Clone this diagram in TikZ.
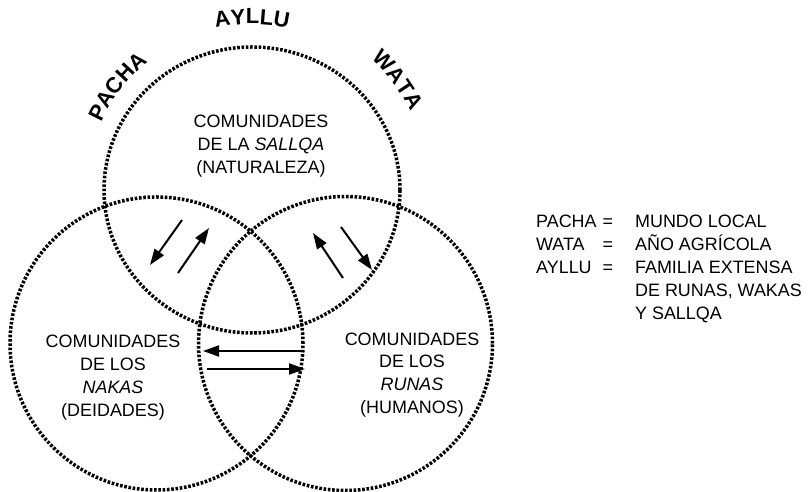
\documentclass[tikz,border=0pt]{standalone}
\usepackage{fontspec}
\setmainfont{Liberation Sans}
\usetikzlibrary{shapes, arrows.meta}
\usetikzlibrary{decorations.text}

\tikzset{
 puntos/.style={line width=3.5bp, dash pattern=on 2.6bp off 1.7bp},
 flecha/.style={line width=2bp, -{Triangle[length=16bp, width=11bp]}},
 texto/.style={align=center, inner sep=0pt, font=\fontsize{18}{23}\selectfont},
 arco/.style={decorate, decoration={text along path, text align=center, text={|\bfseries\fontsize{22}{24}\selectfont|#1}}}
}

\begin{document}
\begin{tikzpicture}[x=1bp, y=1bp]
\useasboundingbox (0,0) rectangle (810,492); %page size
\coordinate (csallqa) at (252,302);
\coordinate (cnakas) at (156.5,148.5);
\coordinate (crunas) at (345.5,148.5);
 \draw [puntos] (csallqa) ellipse [x radius=148, y radius=143];
 \draw [puntos] (cnakas) circle [radius=146.5];
 \draw [puntos] (crunas) circle [radius=147];
 % curved titles
 \path [arco=PACHA] ([shift={(172:165)}]csallqa) arc [start angle=172, end angle=113, radius=165];
 \path [arco=AYLLU] ([shift={(115:166)}]csallqa) arc [start angle=115, end angle=65, radius=166];
 \path [arco=WATA] ([shift={(64:177)}]csallqa) arc [start angle=64, end angle=10, radius=177];
 \node [texto] (sallqa) at (261,345.7) {COMUNIDADES\\DE LA \textit{SALLQA}\\(NATURALEZA)};
 \node [texto] (nakas) at (113,114.5) {COMUNIDADES\\DE LOS\\\textit{NAKAS}\\(DEIDADES)};
 \node [texto] (runas) at (412,117) {COMUNIDADES\\DE LOS\\\textit{RUNAS}\\(HUMANOS)};
 \node [texto, anchor=base west] (leyenda) at (536,264) {\begin{tabular}[t]{@{}l@{\hspace{6bp}}c@{\hspace{22bp}}l@{}}
  PACHA & = & MUNDO LOCAL\\
  WATA & = & AÑO AGRÍCOLA\\
  AYLLU & = & FAMILIA EXTENSA\\
   & & DE RUNAS, WAKAS\\
   & & Y SALLQA
 \end{tabular}};
 % arrows
 \coordinate (a1) at (182,272); \coordinate (b1) at (150,227);
 \coordinate (a2) at (178,219); \coordinate (b2) at (209,264);
 \coordinate (a3) at (343,214); \coordinate (b3) at (313,259);
 \coordinate (a4) at (341,265); \coordinate (b4) at (372,222);
 \coordinate (a5) at (302,141); \coordinate (b5) at (203,141);
 \coordinate (a6) at (207,123); \coordinate (b6) at (305,123);
 \draw [flecha] (a1) -- (b1);
 \draw [flecha] (a2) -- (b2);
 \draw [flecha] (a3) -- (b3);
 \draw [flecha] (a4) -- (b4);
 \draw [flecha] (a5) -- (b5);
 \draw [flecha] (a6) -- (b6);
\end{tikzpicture}
\end{document}
